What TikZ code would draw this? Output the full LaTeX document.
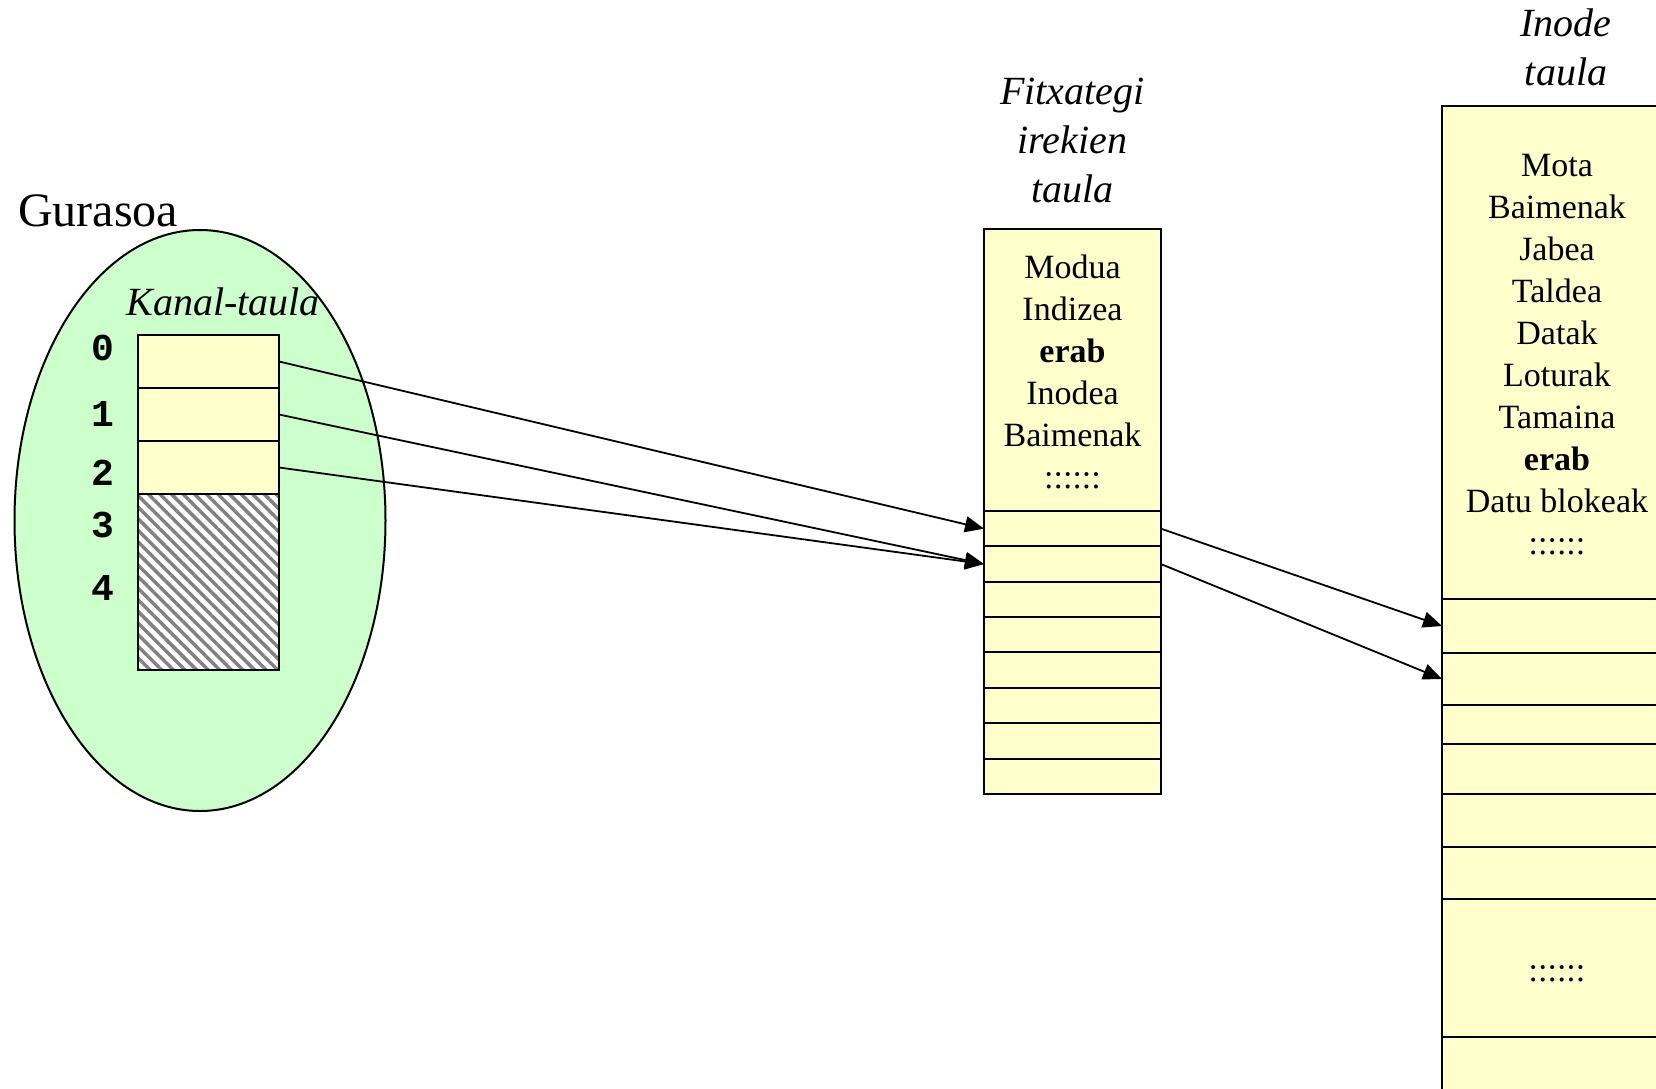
\documentclass[tikz,border=0pt]{standalone}
\usepackage{fontspec}
\setmainfont{Liberation Serif}
\setmonofont{Liberation Mono}
\definecolor{KanalGreen}{RGB}{204,255,204}
\definecolor{TaulaYellow}{RGB}{255,255,204}
\definecolor{HatchGray}{RGB}{128,128,128}
\usetikzlibrary{positioning, arrows.meta, shapes.geometric, patterns.meta}
\newcommand{\cellfont}{\fontsize{17}{21}\selectfont}
\newcommand{\titlefont}{\fontsize{20}{24.5}\selectfont\itshape}
\newcommand{\digitfont}{\fontsize{19}{22}\selectfont\ttfamily\bfseries}
\tikzstyle{cell} = [rectangle, draw, fill=TaulaYellow, line width=1pt, inner sep=0pt, outer sep=0pt]
\tikzstyle{arrow} = [line width=0.9pt, ->, >={Triangle[length=9.5pt, width=8pt]}]

\begin{document}
\begin{tikzpicture}[x=1pt, y=-1pt]
    \clip (0,0) rectangle (828,544);
    % Parent process
    \node[ellipse, draw, line width=1pt, fill=KanalGreen, minimum width=185.5pt, minimum height=290.5pt, inner sep=0pt] (gurasoa) at (100,260.25) {};
    \node[anchor=base west, font=\fontsize{24}{28}\selectfont] (gurasoalbl) at (5.5,113) {Gurasoa};
    \node[anchor=base, font=\titlefont] (kanal) at (111.5,157.5) {Kanal-taula};

    % Channel table
    \node[cell, minimum width=70.5pt, minimum height=26.5pt] (k0) at (104.25,180.75) {};
    \node[cell, minimum width=70.5pt, minimum height=26.5pt] (k1) at (104.25,207.25) {};
    \node[cell, minimum width=70.5pt, minimum height=26.5pt] (k2) at (104.25,233.75) {};
    \node[cell, preaction={fill=white}, pattern={Lines[angle=-45, distance=4.1pt, line width=1.7pt]}, pattern color=HatchGray, minimum width=70.5pt, minimum height=88pt] (k3) at (104.25,291) {};

    \node[font=\digitfont] (d0) at (51.25,174) {0};
    \node[font=\digitfont] (d1) at (51.25,207) {1};
    \node[font=\digitfont] (d2) at (51.25,236.5) {2};
    \node[font=\digitfont] (d3) at (51.25,262.5) {3};
    \node[font=\digitfont] (d4) at (51.25,294) {4};

    % Open files table
    \node[anchor=north, align=center, font=\titlefont] (ftitle) at (536.25,35.6) {Fitxategi\\irekien\\taula};
    \node[cell, minimum width=88.5pt, minimum height=141pt] (fhead) at (536.25,185) {};
    \node[anchor=north, align=center, font=\cellfont] (ftext) at (536.25,123.9) {Modua\\Indizea\\\textbf{erab}\\Inodea\\Baimenak\\::::::};
    \node[cell, minimum width=88.5pt, minimum height=17.69pt] (f1) at (536.25,264.34) {};
    \node[cell, minimum width=88.5pt, minimum height=17.69pt] (f2) at (536.25,282.03) {};
    \node[cell, minimum width=88.5pt, minimum height=17.69pt] (f3) at (536.25,299.72) {};
    \node[cell, minimum width=88.5pt, minimum height=17.69pt] (f4) at (536.25,317.41) {};
    \node[cell, minimum width=88.5pt, minimum height=17.69pt] (f5) at (536.25,335.09) {};
    \node[cell, minimum width=88.5pt, minimum height=17.69pt] (f6) at (536.25,352.78) {};
    \node[cell, minimum width=88.5pt, minimum height=17.69pt] (f7) at (536.25,370.47) {};
    \node[cell, minimum width=88.5pt, minimum height=17.69pt] (f8) at (536.25,388.16) {};

    % Inode table
    \node[anchor=north, align=center, font=\titlefont] (ititle) at (783,0.8) {Inode\\taula};
    \node[cell, minimum width=115pt, minimum height=246.5pt] (ihead) at (778.5,176.25) {};
    \node[anchor=north, align=center, font=\cellfont] (itext) at (778.5,73.8) {Mota\\Baimenak\\Jabea\\Taldea\\Datak\\Loturak\\Tamaina\\\textbf{erab}\\Datu blokeak\\::::::};
    \node[cell, minimum width=115pt, minimum height=27pt] (i1) at (778.5,313) {};
    \node[cell, minimum width=115pt, minimum height=26pt] (i2) at (778.5,339.5) {};
    \node[cell, minimum width=115pt, minimum height=19.5pt] (i3) at (778.5,362.25) {};
    \node[cell, minimum width=115pt, minimum height=25pt] (i4) at (778.5,384.5) {};
    \node[cell, minimum width=115pt, minimum height=26.5pt] (i5) at (778.5,410.25) {};
    \node[cell, minimum width=115pt, minimum height=26pt] (i6) at (778.5,436.5) {};
    \node[cell, minimum width=115pt, minimum height=69pt] (i7) at (778.5,484) {};
    \node[cell, minimum width=115pt, minimum height=41.5pt] (i8) at (778.5,539.25) {};
    \node[anchor=base, font=\cellfont] (idots) at (778.5,490.5) {::::::};

    % Pointers
    \draw[arrow] (k0.east) -- (f1.west);
    \draw[arrow] (k1.east) -- (f2.west);
    \draw[arrow] (k2.east) -- (f2.west);
    \draw[arrow] (f1.east) -- (i1.west);
    \draw[arrow] (f2.east) -- (i2.west);
\end{tikzpicture}
\end{document}
